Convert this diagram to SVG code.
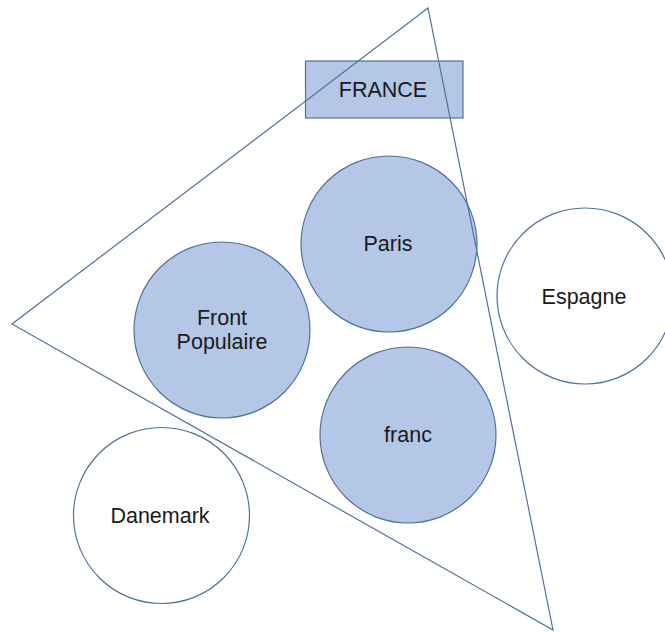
<svg xmlns="http://www.w3.org/2000/svg" width="665" height="632" viewBox="0 0 665 632">
<style>
.f{fill:#b4c7e7;stroke:#4f729e;stroke-width:1.2}
.w{fill:#ffffff;stroke:#4f729e;stroke-width:1.2}
.l{fill:none;stroke:#4f729e;stroke-width:1.2}
text{font-family:"Liberation Sans",Arial,sans-serif;font-size:21.5px;fill:#1a1a1a;text-anchor:middle}
</style>
<rect width="665" height="632" fill="#ffffff"/>
<g id="espagne"><circle class="w" cx="585" cy="296" r="88"/><text x="584" y="304">Espagne</text></g>
<g id="danemark"><circle class="w" cx="161.5" cy="515.5" r="88"/><text x="160" y="523">Danemark</text></g>
<g id="france"><rect class="f" x="305.5" y="61" width="157.5" height="57"/><text x="383" y="97">FRANCE</text></g>
<g id="paris"><circle class="f" cx="389" cy="244" r="88"/><text x="388" y="251">Paris</text></g>
<g id="front"><circle class="f" cx="222" cy="330" r="88"/><text x="222" y="325">Front</text><text x="222" y="349">Populaire</text></g>
<g id="franc"><circle class="f" cx="408" cy="435" r="88"/><text x="408" y="442">franc</text></g>
<g id="connectors"><polygon class="l" points="428,8 12,324 553,630"/></g>
</svg>
